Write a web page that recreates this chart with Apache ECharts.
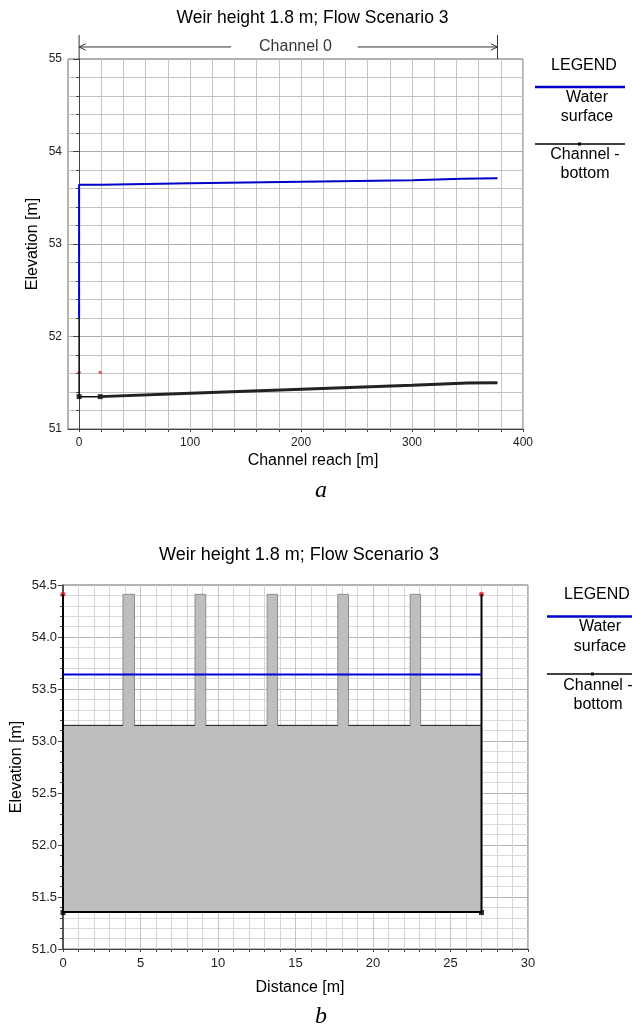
<!DOCTYPE html>
<html><head><meta charset="utf-8">
<style>html,body{margin:0;padding:0;background:#fff}#c{width:632px;height:1028px}</style>
<script src="https://cdn.jsdelivr.net/npm/echarts@6/dist/echarts.min.js"></script>
</head><body><div id="c"></div>
<script>
// ---- chart a: longitudinal profile
const reachTicks = [0,20,40,60,80,100,120,140,160,180,200,220,240,260,280,300,320,340,360,380,400];
const reachLabels = [0,100,200,300,400];
const waterA = [[0,52.2],[0,53.64],[20,53.64],[100,53.658],[217,53.676],[300,53.69],[345,53.705],[377,53.71]];
const riserA = [[0,51.35],[0,52.2]];
const bottomStartA = [[0,51.35],[19,51.35]];
const bottomA = [[19,51.35],[100,51.387],[200,51.43],[300,51.472],[350,51.497],[377,51.5]];
const nodesA = [[0,51.35],[19,51.35]];
const redA = [[0,51.61],[19,51.61]];
const bracketA = [[0,55.26],[0,55],null,[0,55.13],[137,55.13],null,[6,55.165],[0,55.13],[6,55.095],null,
                  [377,55.26],[377,55],null,[251,55.13],[377,55.13],null,[371,55.165],[377,55.13],[371,55.095]];
const channelLabelA = [[195,55.13]];
// ---- chart b: cross section
const sectionB = [[0,53.15],[3.87,53.15],[3.87,54.41],[4.61,54.41],[4.61,53.15],[8.52,53.15],[8.52,54.41],[9.21,54.41],[9.21,53.15],
  [13.17,53.15],[13.17,54.41],[13.84,54.41],[13.84,53.15],[17.73,53.15],[17.73,54.41],[18.42,54.41],[18.42,53.15],
  [22.4,53.15],[22.4,54.41],[23.07,54.41],[23.07,53.15],[27,53.15]];
const stepsB = [[0,53.15],[3.87,53.15],null,[4.61,53.15],[8.52,53.15],null,[9.21,53.15],[13.17,53.15],null,
  [13.84,53.15],[17.73,53.15],null,[18.42,53.15],[22.4,53.15],null,[23.07,53.15],[27,53.15]];
const wallsB = [[0,54.41],[0,51.355],[27,51.355],[27,54.41]];
const waterB = [[0,53.64],[27,53.64]];
const nodesB = [[0,51.35],[27,51.35]];
const redB = [[0,54.41],[27,54.41]];

const FONT = '"Liberation Sans", Arial, sans-serif';
const chart = echarts.init(document.getElementById('c'), null, {renderer:'canvas'});
const off = {showSymbol:false, symbol:'none', silent:true, animation:false, connectNulls:false};
function line(ax, data, color, width, extra){
  return Object.assign({type:'line', xAxisIndex:ax, yAxisIndex:ax, data, lineStyle:{color, width}}, off, extra||{});
}
function dots(ax, data, color, size, symbol){
  return {type:'scatter', xAxisIndex:ax, yAxisIndex:ax, data, symbol:symbol||'circle', symbolSize:size,
          itemStyle:{color}, silent:true, animation:false, clip:false};
}
const axisName = {color:'#000', fontSize:16, fontFamily:FONT};
const axisLab = {color:'#222', fontSize:12, fontFamily:FONT};
const axisLabB = {color:'#222', fontSize:13, fontFamily:FONT};

function legend(cx, lineL, lineR, ys){
  const t = (text, x, y) => ({type:'text', x, y:y+1, style:{text, x:0, y:0, align:'center', verticalAlign:'middle', fill:'#000', font:'16px '+FONT}});
  const l = (y, stroke, w) => ({type:'line', shape:{x1:lineL,y1:y,x2:lineR,y2:y}, style:{stroke, lineWidth:w}});
  return [
    t('LEGEND', cx[0], ys[0]), l(ys[1], '#0000c8', 2.5), t('Water', cx[1], ys[2]), t('surface', cx[1], ys[3]),
    l(ys[4], '#000', 1.5), {type:'rect', shape:{x:cx[0]-6,y:ys[4]-1.5,width:3,height:3}, style:{fill:'#000'}},
    t('Channel -', cx[0]+1, ys[5]), t('bottom', cx[0]+1, ys[6])
  ];
}
const titleStyle = size => ({color:'#000',fontSize:size,fontWeight:'normal',fontFamily:FONT});
const capStyle = {color:'#000',fontSize:24,fontStyle:'italic',fontWeight:'normal',fontFamily:'"Liberation Serif", serif'};

chart.setOption({
  animation:false,
  backgroundColor:'#fff',
  title:[
    {text:'Weir height 1.8 m; Flow Scenario 3', left:312.5, top:18, padding:0, textAlign:'center', textVerticalAlign:'middle', textStyle:titleStyle(17.5)},
    {text:'Weir height 1.8 m; Flow Scenario 3', left:299, top:555, padding:0, textAlign:'center', textVerticalAlign:'middle', textStyle:titleStyle(18)},
    {text:'a', left:321, top:491, padding:0, textAlign:'center', textVerticalAlign:'middle', textStyle:capStyle},
    {text:'b', left:321, top:1017, padding:0, textAlign:'center', textVerticalAlign:'middle', textStyle:capStyle}
  ],
  grid:[
    {left:68, top:59, width:455, height:370, show:true, borderColor:'#666', borderWidth:1, outerBoundsMode:'none'},
    {left:63, top:585, width:465, height:364, show:true, borderColor:'#666', borderWidth:1, outerBoundsMode:'none'}
  ],
  xAxis:[
    {gridIndex:0, type:'value', min:-10, max:400, interval:20, name:'Channel reach [m]', nameLocation:'middle', nameGap:24, nameTextStyle:{...axisName, padding:[0,0,0,35]},
     axisLine:{lineStyle:{color:'#444'}}, axisTick:{length:3, lineStyle:{color:'#444'}, customValues:reachTicks},
     axisLabel:{...axisLab, margin:8, customValues:reachLabels},
     splitLine:{show:true, lineStyle:{color:'#c4c4c4', width:1}}},
    {gridIndex:1, type:'value', min:0, max:30, interval:5, name:'Distance [m]', nameLocation:'middle', nameGap:31, nameTextStyle:{...axisName, padding:[0,0,0,9]},
     axisLine:{lineStyle:{color:'#444'}}, axisTick:{length:3, lineStyle:{color:'#444'}}, minorTick:{show:true, splitNumber:5, length:3, lineStyle:{color:'#444'}},
     axisLabel:{...axisLabB, margin:8},
     splitLine:{show:true, lineStyle:{color:'#c4c4c4'}}, minorSplitLine:{show:true, lineStyle:{color:'#d6d6d6'}}}
  ],
  yAxis:[
    {gridIndex:0, type:'value', min:51, max:55, interval:1, name:'Elevation [m]', nameLocation:'middle', nameGap:27, nameMoveOverlap:false, nameTextStyle:axisName,
     axisLine:{show:true, lineStyle:{color:'#444'}}, axisTick:{length:6, lineStyle:{color:'#444'}}, minorTick:{show:true, splitNumber:5, length:3, lineStyle:{color:'#444'}},
     axisLabel:{...axisLab, margin:6},
     splitLine:{show:true, lineStyle:{color:'#aaaaaa'}}, minorSplitLine:{show:true, lineStyle:{color:'#c4c4c4'}}},
    {gridIndex:1, type:'value', min:51, max:54.5, interval:0.5, name:'Elevation [m]', nameLocation:'middle', nameGap:38, nameMoveOverlap:false, nameTextStyle:axisName,
     axisLine:{show:true, lineStyle:{color:'#333', width:1.5}}, axisTick:{length:5, lineStyle:{color:'#444'}}, minorTick:{show:true, splitNumber:5, length:3, lineStyle:{color:'#444'}},
     axisLabel:{...axisLabB, margin:6, formatter:v=>v.toFixed(1)},
     splitLine:{show:true, lineStyle:{color:'#b4b4b4'}}, minorSplitLine:{show:true, lineStyle:{color:'#dadada'}}}
  ],
  series:[
    line(0, bracketA, '#333', 1, {clip:false}),
    {type:'scatter', xAxisIndex:0, yAxisIndex:0, data:channelLabelA, symbolSize:0, clip:false, silent:true, animation:false,
     label:{show:true, position:'inside', formatter:'Channel 0', color:'#000', fontSize:16, fontFamily:FONT}},
    line(0, waterA, '#0000c8', 2),
    line(0, riserA, '#111', 1.5),
    line(0, bottomStartA, '#111', 1.5),
    line(0, bottomA, '#222', 3),
    dots(0, nodesA, '#000', 5, 'rect'),
    dots(0, redA, '#e8303a', 3.5),
    line(1, sectionB, '#8c8c8c', 1, {areaStyle:{color:'#bebebe', opacity:1, origin:51.355}}),
    line(1, stepsB, '#222', 1),
    line(1, wallsB, '#000', 2),
    line(1, waterB, '#0000d8', 2),
    dots(1, nodesB, '#000', 5, 'rect'),
    dots(1, redB, '#f01020', 5)
  ],
  graphic:[
    ...legend([584,587], 535, 625, [65,87,97,116,144,154,173]),
    ...legend([597,600], 547, 632, [594,616.5,626,646,674,685,704])
  ]
});
</script></body></html>
